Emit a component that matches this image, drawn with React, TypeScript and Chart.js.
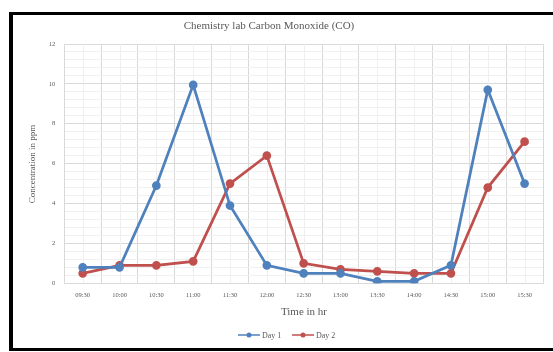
import React, { useEffect, useRef } from "react";
import { Chart, registerables } from "chart.js";

Chart.register(...registerables);

const times = ["09:30", "10:00", "10:30", "11:00", "11:30", "12:00", "12:30", "13:00", "13:30", "14:00", "14:30", "15:00", "15:30"];
const day1 = [0.8, 0.8, 4.9, 9.95, 3.9, 0.9, 0.5, 0.5, 0.1, 0.1, 0.9, 9.7, 5.0];
const day2 = [0.5, 0.9, 0.9, 1.1, 5.0, 6.4, 1.0, 0.7, 0.6, 0.5, 0.5, 4.8, 7.1];
const seriesNames = ["Day 1", "Day 2"];
const seriesColors = ["#4f81bd", "#c0504d"];

const chartTitle = "Chemistry lab Carbon Monoxide (CO)";
const xTitle = "Time in hr";
const yTitle = "Concentration in ppm";

const SERIF = "'Liberation Serif', 'DejaVu Serif', serif";
const TEXT = "#595959";

const isMajor = (v: number) => Math.abs(v / 2 - Math.round(v / 2)) < 1e-6;

// Minor vertical gridlines at the category centres, plus titles and legend
const decorations = {
  id: "decorations",
  beforeDatasetsDraw(chart: any) {
    const { ctx, chartArea, scales } = chart;
    ctx.save();
    ctx.strokeStyle = "#efefef";
    ctx.lineWidth = 1;
    times.forEach((_, i) => {
      const x = Math.round(scales.x.getPixelForValue(i)) + 0.5;
      ctx.beginPath();
      ctx.moveTo(x, chartArea.top);
      ctx.lineTo(x, chartArea.bottom);
      ctx.stroke();
    });
    ctx.restore();
  },
  afterDraw(chart: any) {
    const { ctx } = chart;
    ctx.save();
    ctx.fillStyle = TEXT;
    ctx.textAlign = "center";
    ctx.textBaseline = "middle";
    ctx.font = `11px ${SERIF}`;
    ctx.fillText(chartTitle, 269, 26);
    ctx.font = `11px ${SERIF}`;
    ctx.fillText(xTitle, 304, 312);
    ctx.save();
    ctx.translate(33, 164);
    ctx.rotate(-Math.PI / 2);
    ctx.font = `9px ${SERIF}`;
    ctx.fillText(yTitle, 0, 0);
    ctx.restore();

    // legend: line with a marker, then the series name
    const starts = [238, 292];
    ctx.font = `8px ${SERIF}`;
    ctx.textAlign = "left";
    seriesNames.forEach((name, i) => {
      const x0 = starts[i];
      const y = 335;
      ctx.strokeStyle = seriesColors[i];
      ctx.lineWidth = 1.5;
      ctx.beginPath();
      ctx.moveTo(x0, y);
      ctx.lineTo(x0 + 22, y);
      ctx.stroke();
      ctx.fillStyle = seriesColors[i];
      ctx.beginPath();
      ctx.arc(x0 + 11, y, 2.5, 0, Math.PI * 2);
      ctx.fill();
      ctx.fillStyle = TEXT;
      ctx.fillText(name, x0 + 24, y + 0.5);
    });
    ctx.restore();
  },
};

export default function App() {
  const ref = useRef<HTMLCanvasElement>(null);

  useEffect(() => {
    if (!ref.current) return;
    const chart = new Chart(ref.current, {
      type: "line",
      data: {
        labels: times,
        datasets: [day1, day2].map((d, i) => ({
          label: seriesNames[i],
          data: d,
          borderColor: seriesColors[i],
          backgroundColor: seriesColors[i],
          borderWidth: 2.75,
          pointRadius: 3,
          pointHoverRadius: 3,
          tension: 0,
        })),
      },
      options: {
        animation: false,
        responsive: false,
        layout: { padding: { left: 0, top: 44, right: 10, bottom: 0 } },
        plugins: {
          legend: { display: false },
          title: { display: false },
          tooltip: { enabled: false },
        },
        scales: {
          x: {
            offset: true,
            grid: { offset: true, color: "#d9d9d9", drawTicks: false },
            border: { color: "#d9d9d9" },
            ticks: { color: TEXT, font: { family: SERIF, size: 6.5 }, padding: 8, maxRotation: 0, autoSkip: false },
            afterFit: (s: any) => { s.height = 68.7; },
          },
          y: {
            min: 0,
            max: 12,
            grid: {
              drawTicks: false,
              color: (c: any) => (isMajor(c.tick.value) ? "#d9d9d9" : "#f0f0f0"),
            },
            border: { color: "#d9d9d9" },
            ticks: {
              stepSize: 0.4,
              autoSkip: false,
              color: TEXT,
              font: { family: SERIF, size: 6.5 },
              padding: 9,
              callback: (v: any) => (isMajor(Number(v)) ? String(Math.round(Number(v))) : ""),
            },
            afterFit: (s: any) => { s.width = 64.3; },
          },
        },
      },
      plugins: [decorations],
    });
    return () => chart.destroy();
  }, []);

  return (
    <div style={{ position: "fixed", left: 0, top: 0, width: 553, height: 352, background: "#fff", overflow: "hidden" }}>
      <div
        style={{
          position: "absolute",
          left: 9,
          top: 12,
          width: 600,
          height: 333,
          borderLeft: "4px solid #000",
          borderTop: "3px solid #000",
          borderBottom: "3px solid #000",
          boxSizing: "content-box",
        }}
      />
      <canvas ref={ref} width={553} height={352} style={{ position: "absolute", left: 0, top: 0 }} />
    </div>
  );
}
